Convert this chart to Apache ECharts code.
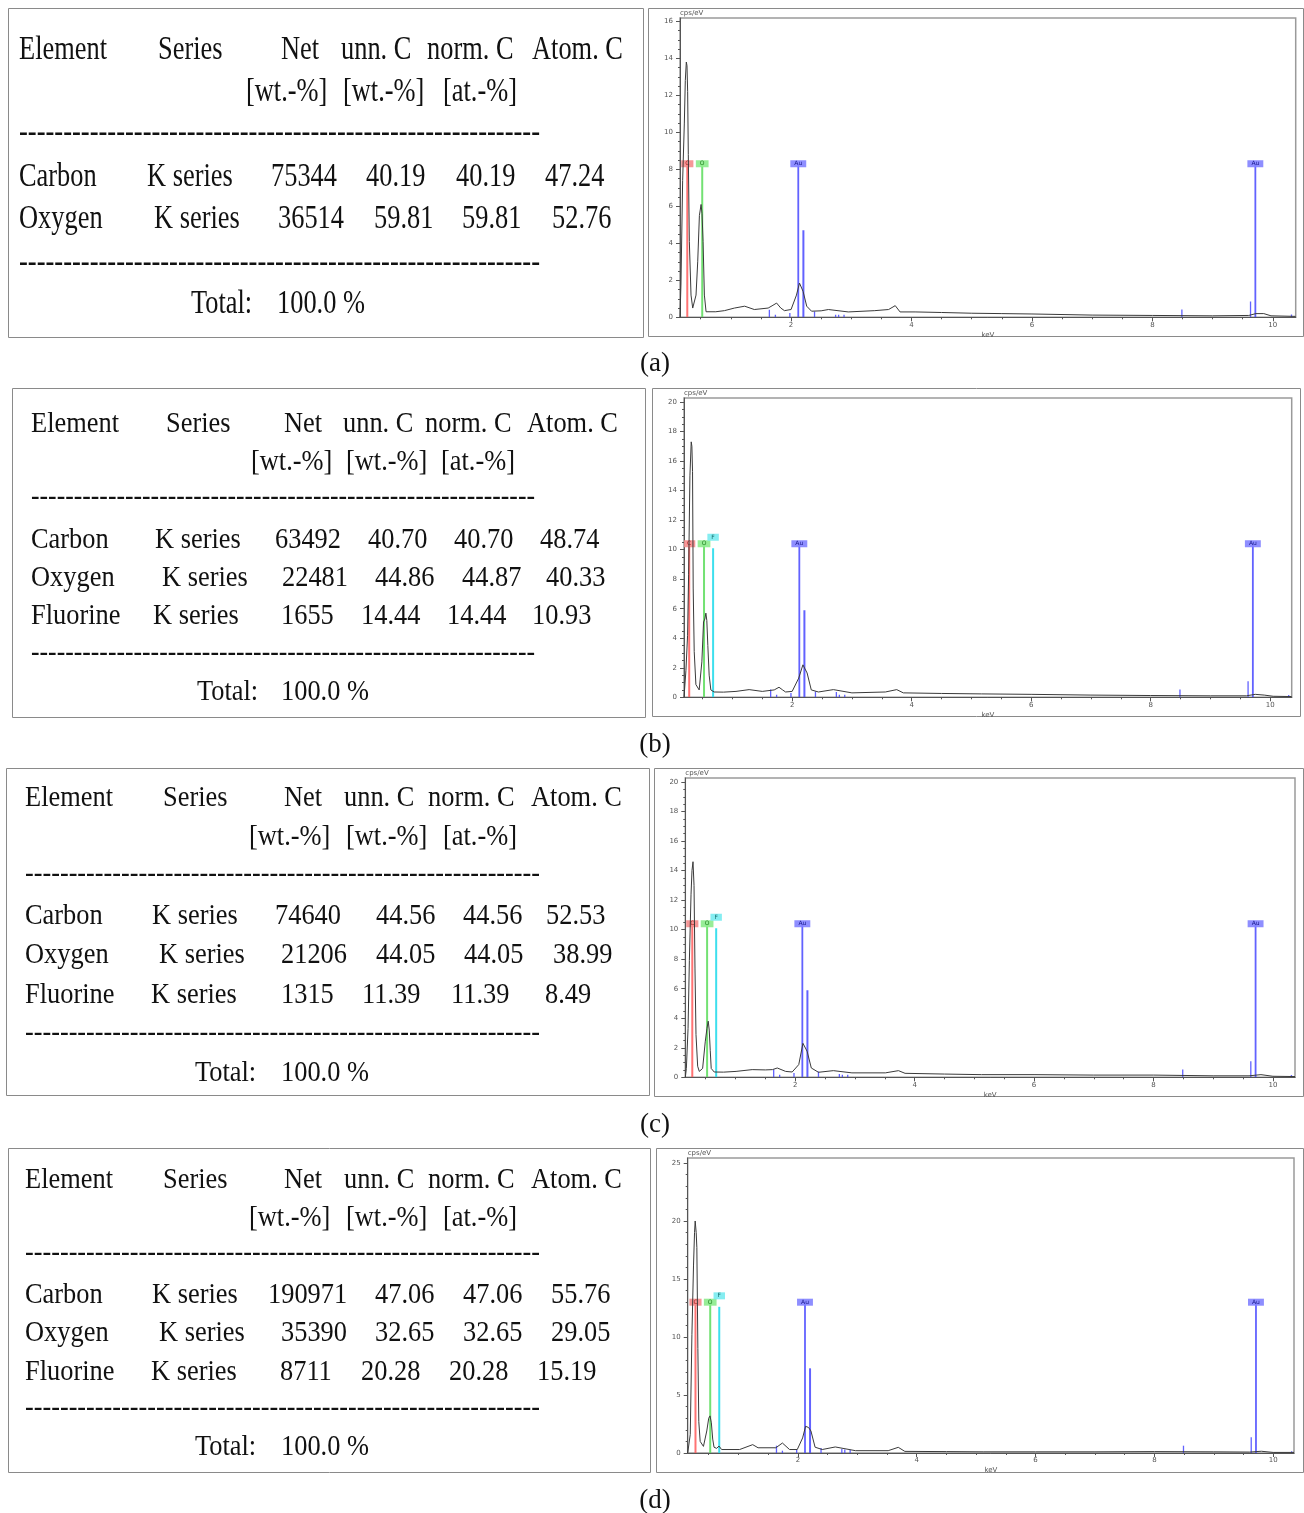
<!DOCTYPE html>
<html><head><meta charset="utf-8">
<script src="https://cdn.jsdelivr.net/npm/echarts@6/dist/echarts.min.js"></script>
<style>html,body{margin:0;padding:0;background:#fff}#c{width:1304px;height:1513px}</style>
</head><body><div id="c"></div>
<script>
// ---------------- DATA ----------------
const colHeads = ['Element', 'Series', 'Net', 'unn. C', 'norm. C', 'Atom. C'];
const unitHeads = ['[wt.-%]', '[wt.-%]', '[at.-%]'];
const totalLabel = 'Total:';
const totalValue = '100.0 %';
const captions = ['(a)', '(b)', '(c)', '(d)'];

const elemA = ['Carbon', 'Oxygen'];
const serA = ['K series', 'K series'];
const netA = [75344, 36514];
const unnA = [40.19, 59.81];
const normA = [40.19, 59.81];
const atomA = [47.24, 52.76];

const elemB = ['Carbon', 'Oxygen', 'Fluorine'];
const serB = ['K series', 'K series', 'K series'];
const netB = [63492, 22481, 1655];
const unnB = [40.70, 44.86, 14.44];
const normB = [40.70, 44.87, 14.44];
const atomB = [48.74, 40.33, 10.93];

const elemC = ['Carbon', 'Oxygen', 'Fluorine'];
const serC = ['K series', 'K series', 'K series'];
const netC = [74640, 21206, 1315];
const unnC = [44.56, 44.05, 11.39];
const normC = [44.56, 44.05, 11.39];
const atomC = [52.53, 38.99, 8.49];

const elemD = ['Carbon', 'Oxygen', 'Fluorine'];
const serD = ['K series', 'K series', 'K series'];
const netD = [190971, 35390, 8711];
const unnD = [47.06, 32.65, 20.28];
const normD = [47.06, 32.65, 20.28];
const atomD = [55.76, 29.05, 15.19];

// EDS spectra [keV, cps/eV]
const specA = [[0.156,0],[0.172,1.8],[0.2,7.4],[0.228,10.5],[0.244,12.8],[0.261,13.8],[0.272,13.6],[0.283,12.2],[0.294,8.8],[0.311,4.1],[0.339,1.2],[0.367,0.5],[0.394,0.45],[0.422,1.2],[0.45,3.0],[0.478,5.5],[0.506,6.1],[0.522,5.6],[0.539,4.1],[0.561,1.2],[0.589,0.3],[0.617,0.29],[0.75,0.3],[0.894,0.36],[1.06,0.5],[1.23,0.6],[1.39,0.42],[1.62,0.5],[1.7,0.65],[1.76,0.77],[1.83,0.5],[1.89,0.36],[2.0,0.42],[2.09,1.2],[2.14,1.85],[2.2,1.4],[2.26,0.6],[2.34,0.33],[2.5,0.35],[2.62,0.42],[2.95,0.29],[3.39,0.36],[3.62,0.42],[3.73,0.63],[3.81,0.29],[4.06,0.29],[4.5,0.26],[5.0,0.22],[5.5,0.2],[6.0,0.18],[7.0,0.12],[8.0,0.1],[9.0,0.08],[9.6,0.1],[9.72,0.2],[9.85,0.2],[9.97,0.08],[10.38,0.05]];
const specB = [[0.19,0],[0.222,1.8],[0.25,4.2],[0.267,8.3],[0.289,15.0],[0.311,17.3],[0.322,17.0],[0.333,15.3],[0.344,7.4],[0.361,3.1],[0.389,0.86],[0.444,0.5],[0.489,2.4],[0.517,5.1],[0.539,5.3],[0.556,5.7],[0.572,5.2],[0.589,3.5],[0.611,1.5],[0.639,0.5],[0.694,0.36],[0.85,0.35],[1.06,0.4],[1.28,0.52],[1.5,0.4],[1.7,0.5],[1.78,0.68],[1.84,0.5],[1.89,0.36],[2.0,0.4],[2.11,1.3],[2.18,2.2],[2.25,1.65],[2.32,0.5],[2.44,0.36],[2.69,0.52],[3.0,0.3],[3.56,0.36],[3.75,0.52],[3.86,0.3],[4.5,0.26],[5.17,0.23],[6.0,0.2],[7.0,0.15],[8.0,0.12],[9.0,0.1],[9.6,0.1],[9.75,0.2],[9.9,0.15],[10.05,0.07],[10.36,0.05]];
const specC = [[0.16,0],[0.178,0.6],[0.206,3.3],[0.228,7.9],[0.256,12.4],[0.272,14.0],[0.289,14.6],[0.306,13.0],[0.322,7.4],[0.339,2.9],[0.367,0.75],[0.394,0.4],[0.45,0.6],[0.494,2.4],[0.522,3.3],[0.544,3.8],[0.561,3.2],[0.578,1.8],[0.594,0.6],[0.644,0.36],[0.8,0.35],[1.01,0.4],[1.28,0.52],[1.5,0.5],[1.62,0.52],[1.7,0.63],[1.84,0.4],[1.95,0.36],[2.06,0.86],[2.13,2.3],[2.2,1.76],[2.27,0.63],[2.39,0.34],[2.64,0.45],[2.95,0.3],[3.51,0.3],[3.73,0.45],[3.84,0.27],[4.5,0.22],[5.12,0.18],[6.0,0.18],[7.0,0.15],[8.0,0.15],[9.0,0.1],[9.6,0.1],[9.8,0.18],[10.0,0.07],[10.37,0.05]];
const specD = [[0.146,0],[0.189,1.6],[0.217,10.2],[0.244,16.2],[0.261,19.0],[0.272,20.0],[0.289,19.0],[0.3,17.7],[0.317,9.0],[0.333,2.7],[0.356,1.0],[0.411,0.57],[0.467,1.9],[0.5,3.0],[0.522,3.2],[0.544,2.6],[0.567,1.2],[0.589,0.5],[0.633,0.4],[0.672,0.6],[0.717,0.3],[1.02,0.3],[1.24,0.72],[1.33,0.45],[1.63,0.45],[1.74,0.86],[1.86,0.3],[1.99,0.3],[2.08,1.3],[2.13,2.3],[2.18,2.2],[2.22,1.9],[2.29,0.5],[2.41,0.3],[2.63,0.52],[2.97,0.2],[3.52,0.2],[3.69,0.49],[3.8,0.14],[4.5,0.12],[5.13,0.1],[6.0,0.1],[7.0,0.1],[8.0,0.12],[9.0,0.1],[9.6,0.08],[9.8,0.15],[10.0,0.05],[10.35,0.05]];

// element lines: [element, keV, height (cps/eV), labelled]
const linesA = [['C',0.277,8.3,1],['O',0.525,8.3,1],['Au',2.12,8.3,1],['Au',2.205,4.7,0],['Au',1.64,0.41,0],['Au',1.74,0.14,0],['Au',1.98,0.23,0],['Au',2.39,0.32,0],['Au',2.74,0.14,0],['Au',2.79,0.14,0],['Au',2.88,0.14,0],['Au',8.49,0.42,0],['Au',9.63,0.86,0],['Au',9.71,8.3,1],['Au',10.31,0.15,0]];
const linesB = [['C',0.277,10.4,1],['O',0.525,10.4,1],['F',0.677,10.1,1],['Au',2.12,10.4,1],['Au',2.205,5.9,0],['Au',1.64,0.52,0],['Au',1.74,0.18,0],['Au',1.98,0.29,0],['Au',2.39,0.4,0],['Au',2.74,0.36,0],['Au',2.79,0.18,0],['Au',2.88,0.18,0],['Au',8.49,0.52,0],['Au',9.63,1.08,0],['Au',9.71,10.4,1],['Au',10.31,0.15,0]];
const linesC = [['C',0.277,10.4,1],['O',0.525,10.4,1],['F',0.677,10.1,1],['Au',2.12,10.4,1],['Au',2.205,5.9,0],['Au',1.64,0.52,0],['Au',1.74,0.18,0],['Au',1.98,0.29,0],['Au',2.39,0.4,0],['Au',2.74,0.23,0],['Au',2.79,0.18,0],['Au',2.88,0.18,0],['Au',8.49,0.52,0],['Au',9.63,1.08,0],['Au',9.71,10.4,1],['Au',10.31,0.15,0]];
const linesD = [['C',0.277,13.0,1],['O',0.525,13.0,1],['F',0.677,12.6,1],['Au',2.12,13.0,1],['Au',2.205,7.3,0],['Au',1.64,0.63,0],['Au',1.74,0.2,0],['Au',1.98,0.29,0],['Au',2.39,0.43,0],['Au',2.74,0.34,0],['Au',2.79,0.3,0],['Au',2.88,0.29,0],['Au',8.49,0.63,0],['Au',9.63,1.35,0],['Au',9.71,13.0,1],['Au',10.31,0.15,0]];

const xLabelTicks = [2, 4, 6, 8, 10];
const yTicksA = [0, 2, 4, 6, 8, 10, 12, 14, 16];
const yTicksB = [0, 2, 4, 6, 8, 10, 12, 14, 16, 18, 20];
const yTicksC = [0, 2, 4, 6, 8, 10, 12, 14, 16, 18, 20];
const yTicksD = [0, 5, 10, 15, 20, 25];

// ---------------- LAYOUT ----------------
const panels = [
  { tbl: {elem: elemA, ser: serA, net: netA, unn: unnA, norm: normA, atom: atomA}, spec: specA, lines: linesA, yTicks: yTicksA, yMinorStep: 0.5,
    box: [8, 8, 643, 337], cbox: [648, 8, 1303, 336], grid: [680, 18, 1295.7, 317.3], xr: [0.156, 10.38], ymax: 16.18, cap: 364,
    sy: 1, yHead: 50, yUnit: 92, yDash1: 136, yRows: [177, 219], yDash2: 266, yTotal: 304,
    xHead: [19, 158, 281, 341, 427, 532], xUnit: [246, 343, 443],
    xRows: [[19, 147, 271, 366, 456, 545], [19, 154, 278, 374, 462, 552]], xDash: [19, 540], xTotal: [191, 277] },
  { tbl: {elem: elemB, ser: serB, net: netB, unn: unnB, norm: normB, atom: atomB}, spec: specB, lines: linesB, yTicks: yTicksB, yMinorStep: 0.5,
    box: [12, 388, 645, 717], cbox: [652, 388, 1300, 716], grid: [684, 398, 1291.7, 697.3], xr: [0.19, 10.36], ymax: 20.27, cap: 745,
    sy: 0.9, yHead: 424, yUnit: 462, yDash1: 500, yRows: [540, 578, 616], yDash2: 656, yTotal: 692,
    xHead: [31, 166, 284, 343, 425, 527], xUnit: [251, 346, 441],
    xRows: [[31, 155, 275, 368, 454, 540], [31, 162, 282, 375, 462, 546], [31, 153, 281, 361, 447, 532]], xDash: [31, 535], xTotal: [197, 281] },
  { tbl: {elem: elemC, ser: serC, net: netC, unn: unnC, norm: normC, atom: atomC}, spec: specC, lines: linesC, yTicks: yTicksC, yMinorStep: 0.5,
    box: [6, 768, 649, 1095], cbox: [654, 768, 1303, 1096], grid: [685.3, 778, 1295, 1077.3], xr: [0.16, 10.37], ymax: 20.27, cap: 1125,
    sy: 0.9, yHead: 798, yUnit: 837, yDash1: 877, yRows: [916, 955, 995], yDash2: 1036, yTotal: 1073,
    xHead: [25, 163, 284, 344, 428, 531], xUnit: [249, 346, 443],
    xRows: [[25, 152, 275, 376, 463, 546], [25, 159, 281, 376, 464, 553], [25, 151, 281, 362, 451, 545]], xDash: [25, 540], xTotal: [195, 281] },
  { tbl: {elem: elemD, ser: serD, net: netD, unn: unnD, norm: normD, atom: atomD}, spec: specD, lines: linesD, yTicks: yTicksD, yMinorStep: 1,
    box: [8, 1148, 650, 1472], cbox: [656, 1148, 1303, 1472], grid: [687.7, 1158, 1294, 1453], xr: [0.146, 10.35], ymax: 25.43, cap: 1501,
    sy: 0.9, yHead: 1180, yUnit: 1218, yDash1: 1256, yRows: [1295, 1333, 1372], yDash2: 1411, yTotal: 1447,
    xHead: [25, 163, 284, 344, 428, 531], xUnit: [249, 346, 443],
    xRows: [[25, 152, 268, 375, 463, 551], [25, 159, 281, 375, 463, 551], [25, 151, 280, 361, 449, 537]], xDash: [25, 540], xTotal: [195, 281] }
];

const TFONT = 'Liberation Serif';
const TSIZE = 33;
const TSX = 0.8;
const MSTYLE = {
  C:  {line: 'rgba(255,90,90,0.85)',  bg: 'rgba(245,140,140,0.9)', text: '#b02020', w: 2},
  O:  {line: 'rgba(90,220,90,0.85)',  bg: 'rgba(140,235,140,0.9)', text: '#208020', w: 2},
  F:  {line: 'rgba(40,220,235,0.9)',  bg: 'rgba(120,235,240,0.9)', text: '#106868', w: 2},
  Au: {line: 'rgba(70,70,255,0.85)',  bg: 'rgba(130,130,255,0.9)', text: '#18188a', w: 1.8}
};

const measCtx = document.createElement('canvas').getContext('2d');
function textW(s, size) { measCtx.font = size + 'px "' + TFONT + '"'; return measCtx.measureText(s).width; }

function tText(s, x, y, sy, extra) {
  return Object.assign({ type: 'text', x: x, y: y, scaleX: TSX, scaleY: sy, silent: true,
    style: { text: s, fontFamily: TFONT, fontSize: TSIZE, fill: '#111', align: 'left', verticalAlign: 'middle' } }, extra || {});
}

const graphics = [];
const grids = [], xAxes = [], yAxes = [], series = [];
const axisGray = '#555';

panels.forEach((p, i) => {
  // boxes
  graphics.push({ type: 'rect', silent: true, shape: { x: p.box[0] + 0.5, y: p.box[1] + 0.5, width: p.box[2] - p.box[0], height: p.box[3] - p.box[1] }, style: { fill: 'none', stroke: '#8a8a8a', lineWidth: 1 } });
  graphics.push({ type: 'rect', silent: true, shape: { x: p.cbox[0] + 0.5, y: p.cbox[1] + 0.5, width: p.cbox[2] - p.cbox[0], height: p.cbox[3] - p.cbox[1] }, style: { fill: 'none', stroke: '#8a8a8a', lineWidth: 1 } });
  // caption
  graphics.push({ type: 'text', x: 655, y: p.cap, silent: true, style: { text: captions[i], fontFamily: TFONT, fontSize: 27, fill: '#111', align: 'center', verticalAlign: 'middle' } });
  // table
  colHeads.forEach((h, k) => graphics.push(tText(h, p.xHead[k], p.yHead, p.sy)));
  unitHeads.forEach((h, k) => graphics.push(tText(h, p.xUnit[k], p.yUnit, p.sy)));
  const dash = '-'.repeat(59);
  const dsx = (p.xDash[1] - p.xDash[0]) / textW(dash, TSIZE);
  graphics.push(tText(dash, p.xDash[0], p.yDash1 - 3, p.sy, { scaleX: dsx }));
  graphics.push(tText(dash, p.xDash[0], p.yDash2 - 3, p.sy, { scaleX: dsx }));
  p.tbl.elem.forEach((el, r) => {
    const cells = [el, p.tbl.ser[r], String(p.tbl.net[r]), p.tbl.unn[r].toFixed(2), p.tbl.norm[r].toFixed(2), p.tbl.atom[r].toFixed(2)];
    cells.forEach((c, k) => graphics.push(tText(c, p.xRows[r][k], p.yRows[r], p.sy)));
  });
  graphics.push(tText(totalLabel, p.xTotal[0], p.yTotal, p.sy));
  graphics.push(tText(totalValue, p.xTotal[1], p.yTotal, p.sy));

  // chart grid
  const g = p.grid;
  grids.push({ left: g[0], top: g[1], width: g[2] - g[0], height: g[3] - g[1], show: true, borderColor: '#9a9a9a', borderWidth: 1.5, backgroundColor: 'transparent', containLabel: false, outerBoundsMode: 'none' });
  const xMinor = [];
  for (let v = 0.5; v <= p.xr[1]; v += 0.5) xMinor.push(+v.toFixed(2));
  const yTop = p.yTicks[p.yTicks.length - 1];
  const yMinor = [];
  for (let v = 0; v <= yTop + 1e-9; v += p.yMinorStep) yMinor.push(+v.toFixed(2));
  xAxes.push({ type: 'value', gridIndex: i, min: p.xr[0], max: p.xr[1], position: 'bottom',
    axisLine: { show: true, onZero: false, lineStyle: { color: axisGray, width: 1 } },
    axisTick: { show: true, customValues: xLabelTicks, length: 4, lineStyle: { color: axisGray } },
    axisLabel: { customValues: xLabelTicks, fontSize: 7, color: '#555', margin: 4, fontFamily: 'DejaVu Sans' },
    splitLine: { show: false },
    name: 'keV', nameLocation: 'middle', nameGap: 14, nameTextStyle: { fontSize: 7, color: '#555', fontFamily: 'DejaVu Sans' } });
  xAxes.push({ type: 'value', gridIndex: i, min: p.xr[0], max: p.xr[1], position: 'bottom',
    axisLine: { show: false }, axisTick: { show: true, customValues: xMinor, length: 2, lineStyle: { color: axisGray } },
    axisLabel: { show: false }, splitLine: { show: false } });
  yAxes.push({ type: 'value', gridIndex: i, min: 0, max: p.ymax, position: 'left',
    axisLine: { show: true, onZero: false, lineStyle: { color: axisGray, width: 1 } },
    axisTick: { show: true, customValues: p.yTicks, length: 4, lineStyle: { color: axisGray } },
    axisLabel: { customValues: p.yTicks, fontSize: 7, color: '#555', margin: 7, fontFamily: 'DejaVu Sans' },
    splitLine: { show: false },
    name: 'cps/eV', nameLocation: 'end', nameGap: 1, nameTextStyle: { align: 'left', verticalAlign: 'bottom', fontSize: 7, color: '#555', fontFamily: 'DejaVu Sans' } });
  yAxes.push({ type: 'value', gridIndex: i, min: 0, max: p.ymax, position: 'left',
    axisLine: { show: false }, axisTick: { show: true, customValues: yMinor, length: 2, lineStyle: { color: axisGray } },
    axisLabel: { show: false }, splitLine: { show: false } });

  const lines = p.lines;
  series.push({ type: 'custom', xAxisIndex: 2 * i, yAxisIndex: 2 * i, z: 3, silent: true, clip: true,
    data: lines.map(l => [l[1], l[2]]),
    renderItem: function (params, api) {
      const l = lines[params.dataIndex];
      const st = MSTYLE[l[0]];
      const p0 = api.coord([api.value(0), 0]);
      const p1 = api.coord([api.value(0), api.value(1)]);
      const w = l[3] ? st.w : (l[2] > 3 ? 2 : 1.3);
      const ch = [{ type: 'rect', shape: { x: p0[0] - w / 2, y: p1[1], width: w, height: p0[1] - p1[1] }, style: { fill: st.line } }];
      if (l[3]) {
        ch.push({ type: 'text', x: p1[0], y: p1[1] + (l[0] === 'F' ? -11 : 0),
          style: { text: l[0], fontSize: 6, fontFamily: 'DejaVu Sans', fill: st.text, backgroundColor: st.bg, padding: [1, 4, 0, 4], align: 'center', verticalAlign: 'middle' } });
      }
      return { type: 'group', children: ch };
    } });
  series.push({ type: 'line', xAxisIndex: 2 * i, yAxisIndex: 2 * i, z: 5, silent: true, data: p.spec,
    showSymbol: false, symbol: 'none', lineStyle: { color: '#3a3a3a', width: 1 } });
});

const chart = echarts.init(document.getElementById('c'), null, { renderer: 'canvas', width: 1304, height: 1513 });
chart.setOption({
  animation: false,
  backgroundColor: '#ffffff',
  grid: grids, xAxis: xAxes, yAxis: yAxes, series: series,
  graphic: { elements: graphics }
});
</script>
</body></html>
